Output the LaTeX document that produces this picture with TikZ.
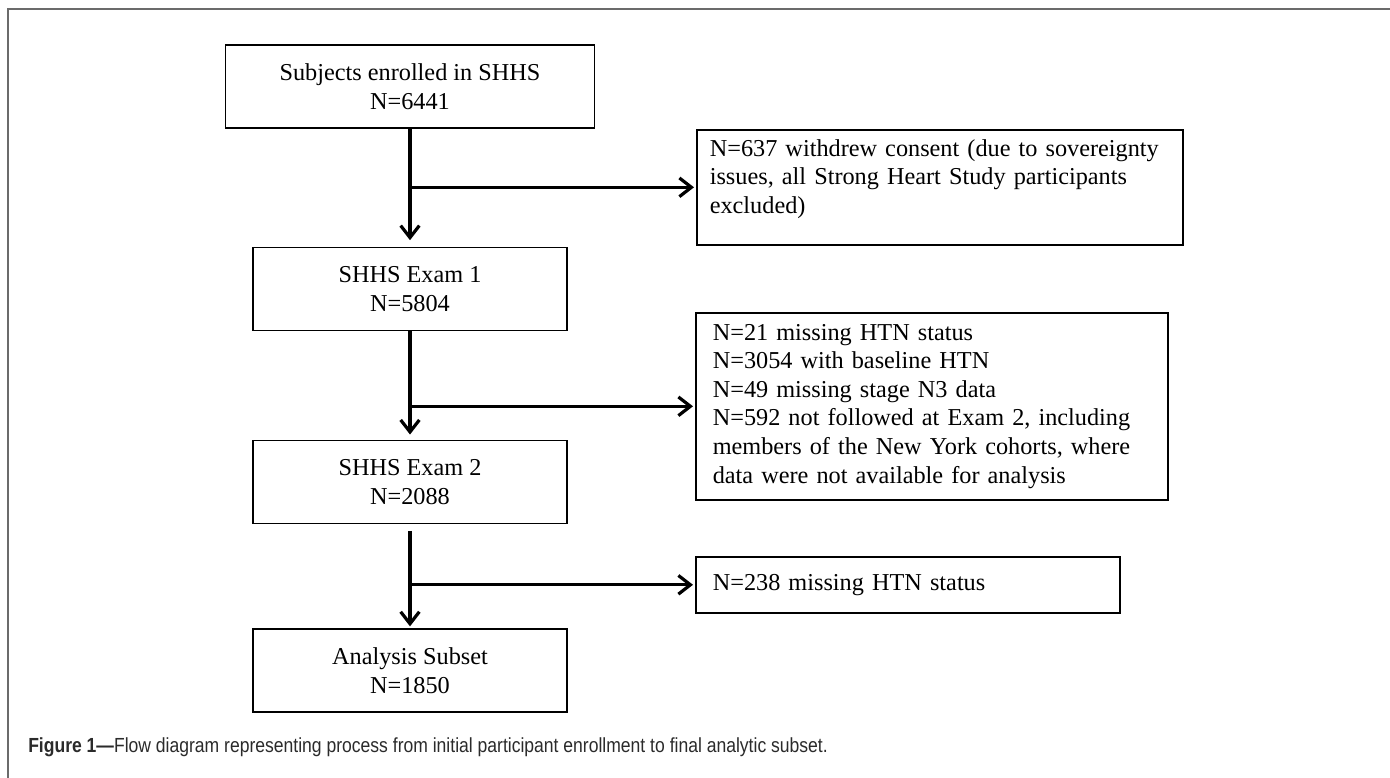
\documentclass[tikz,border=0pt]{standalone}
\usepackage{fontspec}
\setmainfont{Liberation Serif}
\newfontfamily\capfont[FakeStretch=0.86]{Liberation Sans}
\usepackage{tikz}
\usetikzlibrary{arrows.meta}
\definecolor{framegray}{HTML}{6B6B6B}
\definecolor{captext}{HTML}{2B2B2B}
\tikzset{
    mainbox/.style={draw, line width=1.2pt, align=center, inner sep=0pt,
        minimum width=235.5pt, minimum height=62pt,
        font=\fontsize{18.2}{21.4}\selectfont},
    sidebox/.style={draw, line width=1.2pt, align=left, anchor=north west,
        inner xsep=12.75pt, inner ysep=0pt,
        font=\fontsize{18.2}{21.4}\selectfont},
    flow/.style={line width=2.4pt, -{Straight Barb[length=9pt,width=14pt,line width=2.4pt]}}
}

\begin{document}
\begin{tikzpicture}[x=0.75pt,y=-0.75pt]
    \useasboundingbox (0,0) rectangle (1390,778);
    % rahmen oben und links
    \draw [framegray, line width=1.5pt] (8,778) -- (8,9) -- (1390,9);

    % hauptkette
    \node [mainbox, minimum width=276.75pt, minimum height=62.25pt] (enrolled) at (410,86.5)
        {Subjects enrolled in SHHS\\N=6441};
    \node [mainbox] (exam1) at (410,289) {SHHS Exam 1\\N=5804};
    \node [mainbox] (exam2) at (410,482) {SHHS Exam 2\\N=2088};
    \node [mainbox] (subset) at (410,670.5) {Analysis Subset\\N=1850};

    % ausschluesse
    \node [sidebox, inner xsep=9.75pt, text width=345pt, text height=19.9pt, text depth=66.35pt] (withdrew) at (696,129)
        {N=637 withdrew consent (due to sovereignty\\issues, all Strong Heart Study participants\\excluded)};
    \node [sidebox, text width=328.5pt, minimum height=140.25pt] (excluded) at (695,312)
        {N=21 missing HTN status\\N=3054 with baseline HTN\\N=49 missing stage N3 data\\N=592 not followed at Exam 2, including\\members of the New York cohorts, where\\data were not available for analysis};
    \node [sidebox, text width=292.5pt, minimum height=42pt] (missing) at (695,556)
        {N=238 missing HTN status};

    \draw [flow, shorten >=5pt] (enrolled) -- (exam1);
    \draw [flow, shorten >=4pt] (exam1) -- (exam2);
    \draw [flow, shorten <=5pt, shorten >=1.5pt] (exam2) -- (subset);
    \draw [flow, shorten >=1.5pt] (enrolled.south |- withdrew.west) -- (withdrew.west);
    \draw [flow, shorten >=1.5pt] (exam1.south |- excluded.west) -- (excluded.west);
    \draw [flow, shorten >=1.5pt] (exam2.south |- missing.west) -- (missing.west);

    \node [anchor=west, inner sep=0pt, text=captext, font=\capfont\fontsize{15.3}{18}\selectfont] (caption) at (28,747)
        {\textbf{Figure 1—}Flow diagram representing process from initial participant enrollment to final analytic subset.};
\end{tikzpicture}
\end{document}
